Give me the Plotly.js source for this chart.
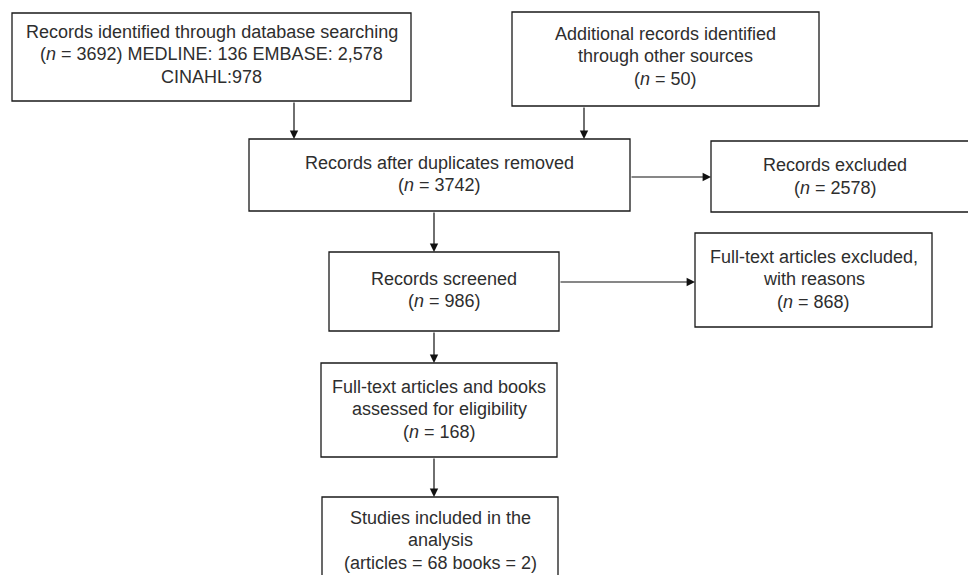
<!DOCTYPE html>
<html>
<head>
<meta charset="utf-8">
<script src="https://cdn.plot.ly/plotly-3.0.1.min.js"></script>
<style>html,body{margin:0;padding:0;background:#fff;}#chart{width:968px;height:575px;}</style>
</head>
<body>
<div id="chart"></div>
<script>
// Flow stages (text content)
const stageTitles = [
  "Records identified through database searching",
  "Additional records identified<br>through other sources",
  "Records after duplicates removed",
  "Records excluded",
  "Records screened",
  "Full-text articles excluded,<br>with reasons",
  "Full-text articles and books<br>assessed for eligibility",
  "Studies included in the<br>analysis"
];
const stageCounts = ["3692", "50", "3742", "2578", "986", "868", "168", null];
const sourceBreakdown = ["MEDLINE: 136", "EMBASE: 2,578", "CINAHL:978"];
const includedBreakdown = ["articles = 68", "books = 2"];
// Links between stages: [from, to]
const links = [[0,2],[1,2],[2,3],[2,4],[4,5],[4,6],[6,7]];

// Box geometry (pixel layout)
const boxes = [
  [12, 13, 411, 101],
  [512, 12, 819, 106],
  [249, 139, 630, 211],
  [711, 141, 975, 212],
  [329, 252, 559, 331],
  [695, 233, 932, 327],
  [321, 363, 557, 457],
  [322, 497, 558, 580]
];
const textCenters = [54, 56, 174, 176.5, 290, 279, 409, 540];
const textX = [211.5, 665.5, 439.5, 835, 444, 813.5, 439, 440];
const lineGap = 22.5;
// arrow geometry per link: [x0,y0,x1,y1]
const arrowGeom = [
  [294, 101, 294, 139],
  [584, 106, 584, 139],
  [630, 177, 711, 177],
  [434, 211, 434, 252],
  [559, 282, 695, 282],
  [434, 331, 434, 363],
  [434, 457, 434, 497]
];

function label(i) {
  const c = stageCounts[i];
  if (i === 0) {
    return stageTitles[0] + "<br>(<i>n</i> = " + c + ") " + sourceBreakdown[0] + " " + sourceBreakdown[1] + "<br>" + sourceBreakdown[2];
  }
  if (i === 7) {
    return stageTitles[7] + "<br>(" + includedBreakdown.join(" ") + ")";
  }
  return stageTitles[i] + "<br>(<i>n</i> = " + c + ")";
}

const shapes = boxes.map(b => ({
  type: "rect", xref: "x", yref: "y",
  x0: b[0], y0: b[1], x1: b[2], y1: b[3],
  line: {color: "#1a1a1a", width: 1.3}, fillcolor: "rgba(0,0,0,0)"
}));

const annotations = [];
boxes.forEach((b, i) => {
  const lines = label(i).split("<br>");
  const n = lines.length;
  lines.forEach((ln, j) => {
    annotations.push({
      xref: "x", yref: "y",
      x: textX[i],
      y: textCenters[i] + (j - (n - 1) / 2) * lineGap,
      text: ln, showarrow: false,
      xanchor: "center", yanchor: "middle", align: "center",
      font: {family: "Liberation Sans, Arial, sans-serif", size: 18, color: "#2e2e2e"}
    });
  });
});

links.forEach((l, k) => {
  const g = arrowGeom[k];
  annotations.push({
    xref: "x", yref: "y", axref: "x", ayref: "y",
    x: g[2], y: g[3], ax: g[0], ay: g[1],
    text: "", showarrow: true, arrowhead: 2, arrowsize: 1.4, arrowwidth: 1.2,
    arrowcolor: "#111111", standoff: 0, startstandoff: 0
  });
});

const layout = {
  width: 968, height: 575,
  margin: {l: 0, r: 0, t: 0, b: 0},
  paper_bgcolor: "#ffffff", plot_bgcolor: "#ffffff",
  xaxis: {range: [0, 968], visible: false, fixedrange: true},
  yaxis: {range: [575, 0], visible: false, fixedrange: true},
  showlegend: false,
  shapes: shapes,
  annotations: annotations
};

Plotly.newPlot("chart", [], layout, {displayModeBar: false, staticPlot: true});
</script>
</body>
</html>
